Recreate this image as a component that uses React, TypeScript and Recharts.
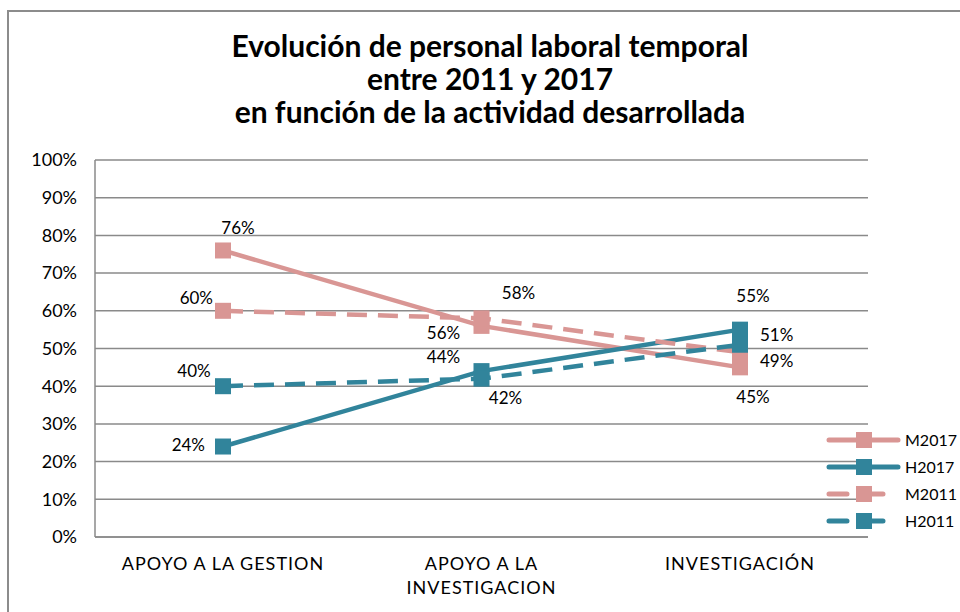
import React from "react"
import { LineChart, Line, XAxis, YAxis, CartesianGrid, LabelList } from "recharts"

const categories = ["APOYO A LA GESTION", "APOYO A LA INVESTIGACION", "INVESTIGACIÓN"]
const m2017 = [76, 56, 45]
const h2017 = [24, 44, 55]
const m2011 = [60, 58, 49]
const h2011 = [40, 42, 51]
const yTicks = [0, 10, 20, 30, 40, 50, 60, 70, 80, 90, 100]

const PINK = "#D99694"
const TEAL = "#31849B"
const FONT = "Lato, 'DejaVu Sans', sans-serif"

const data = categories.map((name, i) => ({
    name,
    M2017: m2017[i],
    H2017: h2017[i],
    M2011: m2011[i],
    H2011: h2011[i],
}))

// label offsets per point: [dx, dy, anchor]
type Off = [number, number, "start" | "middle" | "end"]
const labelOffsets: Record<string, Off[]> = {
    M2017: [[15, -23, "middle"], [-38, 7, "middle"], [13, 29, "middle"]],
    H2017: [[-18, -2, "end"], [-38, -15, "middle"], [13, -34, "middle"]],
    M2011: [[-10, -13, "end"], [37, -26, "middle"], [20, 8, "start"]],
    H2011: [[-29, -16, "middle"], [24, 19, "middle"], [20, -10, "start"]],
}

const makeLabel = (key: string) => (props: any) => {
    const { x, y, value, index } = props
    const [dx, dy, anchor] = labelOffsets[key][index]
    return (
        <text
            x={x + dx}
            y={y + dy}
            textAnchor={anchor}
            dominantBaseline="central"
            fontSize={17}
            fontFamily={FONT}
            fill="#000"
        >
            {`${value}%`}
        </text>
    )
}

const squareDot = (color: string) => (props: any) => {
    const { cx, cy, index } = props
    return <rect key={`d-${index}`} x={cx - 8} y={cy - 8} width={16} height={16} fill={color} />
}

const CatTick = (props: any) => {
    const { x, y, payload } = props
    const words = String(payload.value).split(" ")
    const lines: string[] = []
    let cur = ""
    words.forEach((w) => {
        const next = cur ? cur + " " + w : w
        if (next.length > 18 && cur) {
            lines.push(cur)
            cur = w
        } else cur = next
    })
    if (cur) lines.push(cur)
    return (
        <text
            x={x}
            y={y + 25}
            textAnchor="middle"
            fontSize={18}
            letterSpacing={1}
            fontFamily={FONT}
            fill="#000"
        >
            {lines.map((l, i) => (
                <tspan key={i} x={x} dy={i === 0 ? 0 : 24}>
                    {l}
                </tspan>
            ))}
        </text>
    )
}

const series = [
    { key: "M2017", color: PINK, dash: undefined },
    { key: "H2017", color: TEAL, dash: undefined },
    { key: "M2011", color: PINK, dash: "20 11" },
    { key: "H2011", color: TEAL, dash: "20 11" },
]

const LegendBox = () => (
    <div style={{ fontFamily: FONT, fontSize: 16, color: "#000" }}>
        {series.map((s) => (
            <div key={s.key} style={{ display: "flex", alignItems: "center", height: 27 }}>
                <svg width={76} height={20}>
                    <line
                        x1={3}
                        x2={72}
                        y1={10}
                        y2={10}
                        stroke={s.color}
                        strokeWidth={5}
                        strokeLinecap="round"
                        strokeDasharray={s.dash ? "18 18" : undefined}
                    />
                    <rect x={30} y={2} width={16} height={16} fill={s.color} />
                </svg>
                <span style={{ marginLeft: 3 }}>{s.key}</span>
            </div>
        ))}
    </div>
)

export default function App() {
    return (
        <div
            style={{
                position: "fixed",
                left: 0,
                top: 0,
                width: 960,
                height: 612,
                overflow: "hidden",
                background: "#fff",
            }}
        >
            <div
                style={{
                    position: "absolute",
                    left: 7,
                    top: 10,
                    width: 1000,
                    height: 700,
                    border: "2px solid #8c8c8c",
                }}
            />
            <div
                style={{
                    position: "absolute",
                    left: 140,
                    width: 700,
                    top: 29,
                    textAlign: "center",
                    fontFamily: FONT,
                    fontWeight: "bold",
                    fontSize: 30,
                    lineHeight: "33px",
                    color: "#000",
                }}
            >
                <div>Evolución de personal laboral temporal</div>
                <div>entre 2011 y 2017</div>
                <div>en función de la actividad desarrollada</div>
            </div>
            <div style={{ position: "absolute", left: 0, top: 0 }}>
                <LineChart
                    width={960}
                    height={612}
                    data={data}
                    margin={{ top: 160, right: 92, bottom: 25, left: 35 }}
                >
                    <CartesianGrid vertical={false} stroke="#8a8a8a" strokeWidth={1.5} />
                    <XAxis
                        dataKey="name"
                        padding={{ left: 128, right: 128 }}
                        tick={<CatTick />}
                        tickLine={false}
                        axisLine={{ stroke: "#8a8a8a", strokeWidth: 1.5 }}
                        height={50}
                        interval={0}
                    />
                    <YAxis
                        domain={[0, 100]}
                        ticks={yTicks}
                        tickFormatter={(v) => `${v}%`}
                        tick={{ fontSize: 18, fontFamily: FONT, fill: "#000" }}
                        tickLine={false}
                        tickMargin={12}
                        axisLine={{ stroke: "#8a8a8a", strokeWidth: 1.5 }}
                        width={60}
                    />
                    {series.map((s) => (
                        <Line
                            key={s.key}
                            dataKey={s.key}
                            stroke={s.color}
                            strokeWidth={4.5}
                            strokeDasharray={s.dash}
                            dot={squareDot(s.color)}
                            activeDot={false}
                            isAnimationActive={false}
                        >
                            <LabelList dataKey={s.key} content={makeLabel(s.key)} />
                        </Line>
                    ))}
                </LineChart>
            </div>
            <div style={{ position: "absolute", left: 826, top: 426 }}>
                <LegendBox />
            </div>
        </div>
    )
}
